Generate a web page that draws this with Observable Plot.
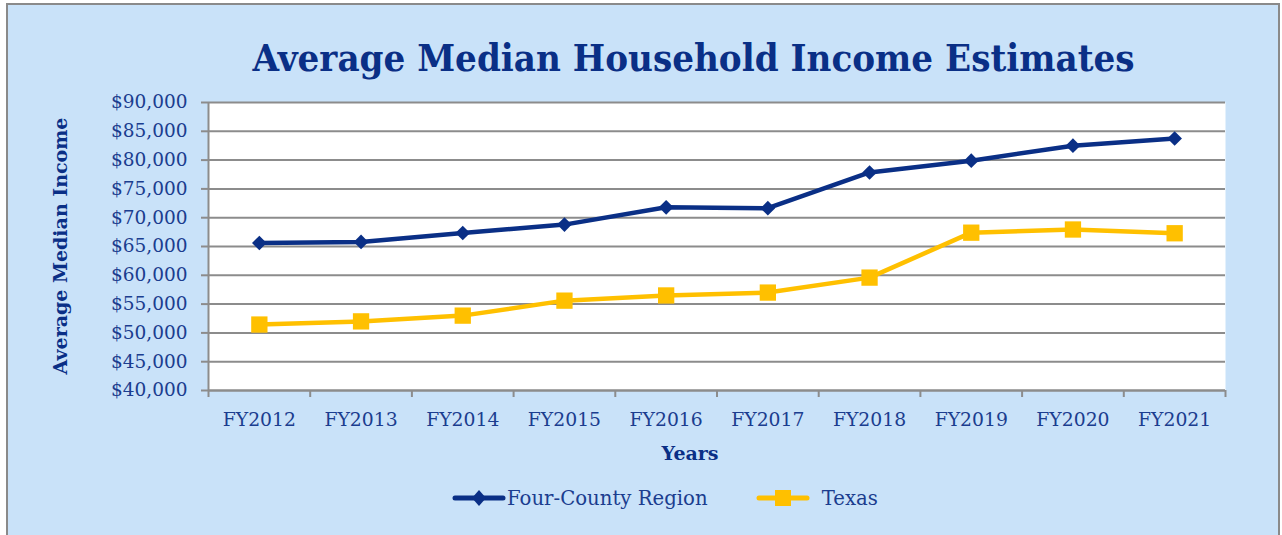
<!DOCTYPE html>
<html>
<head>
<meta charset="utf-8">
<script src="https://cdn.jsdelivr.net/npm/d3@7"></script>
<script src="https://cdn.jsdelivr.net/npm/@observablehq/plot@0.6"></script>
<style>
  html, body { margin: 0; padding: 0; background: #ffffff; }
  #wrap { position: relative; width: 1282px; height: 535px; overflow: hidden; font-family: "DejaVu Serif", serif; }
  #box { position: absolute; left: 6px; top: 3px; width: 1270px; height: 560px; background: #c9e2f9; border: 2px solid #8a8a8a; }
  #chart { position: absolute; left: 0; top: 0; }
  .t { position: absolute; white-space: nowrap; }
  #title { font-weight: bold; font-size: 38px; color: #0a2f86; top: 35px; transform-origin: center center; }
  #ylab { font-weight: bold; font-size: 19px; color: #0a2f86; }
  #xlab { font-weight: bold; font-size: 19px; color: #0a2f86; }
  .leg { font-size: 19.7px; color: #1b3d8f; }
</style>
</head>
<body>
<div id="wrap">
  <div id="box"></div>
  <div id="chart"></div>
  <div class="t" id="title">Average Median Household Income Estimates</div>
  <div class="t" id="ylab">Average Median Income</div>
  <div class="t" id="xlab">Years</div>
  <div class="t" id="legend"></div>
</div>
<script>
const years = ["FY2012","FY2013","FY2014","FY2015","FY2016","FY2017","FY2018","FY2019","FY2020","FY2021"];
const fourCounty = [65600, 65800, 67350, 68800, 71800, 71650, 77850, 79900, 82500, 83750];
const texas = [51450, 52000, 53000, 55600, 56500, 57000, 59600, 67400, 67950, 67300];
const yTicks = [40000,45000,50000,55000,60000,65000,70000,75000,80000,85000,90000];
const seriesNames = ["Four-County Region", "Texas"];
const seriesColors = ["#0a2f86", "#ffc000"];

const rows = years.map((year, i) => ({year, pos: i + 0.5, four: fourCounty[i], texas: texas[i]}));
const boundaries = years.map((d, i) => i).concat([years.length]);
const centers = years.map((d, i) => i + 0.5);

const grid = "#8c8c8c";
const tickText = "#1b3d8f";

const plot = Plot.plot({
  width: 1282,
  height: 535,
  marginLeft: 208,
  marginRight: 57,
  marginTop: 102,
  marginBottom: 145,
  x: {type: "linear", domain: [0, years.length], axis: null},
  y: {domain: [40000, 90000], axis: null},
  style: {background: "transparent", fontFamily: "DejaVu Serif, serif", overflow: "visible"},
  marks: [
    Plot.frame({fill: "white", stroke: null}),
    Plot.gridY(yTicks, {stroke: grid, strokeOpacity: 1, strokeWidth: 2}),
    Plot.axisY(yTicks, {tickFormat: d3.format("$,"), tickSize: 7, tickPadding: 14, stroke: grid, strokeWidth: 2, fill: tickText, fontSize: 18.5, label: null}),
    Plot.axisX(boundaries, {tickFormat: () => "", tickSize: 7, stroke: grid, strokeWidth: 2, label: null}),
    Plot.axisX(centers, {tickFormat: v => years[Math.round(v - 0.5)], tickSize: 0, tickPadding: 22, fill: tickText, fontSize: 18.8, label: null}),
    Plot.ruleX([0], {stroke: grid, strokeWidth: 2}),
    Plot.ruleY([40000], {stroke: grid, strokeWidth: 2}),
    Plot.line(rows, {x: "pos", y: "texas", stroke: seriesColors[1], strokeWidth: 4.5}),
    Plot.dot(rows, {x: "pos", y: "texas", symbol: "square", r: 9.2, fill: seriesColors[1], stroke: null}),
    Plot.line(rows, {x: "pos", y: "four", stroke: seriesColors[0], strokeWidth: 4.5}),
    Plot.dot(rows, {x: "pos", y: "four", symbol: "diamond2", r: 6.6, fill: seriesColors[0], stroke: null})
  ]
});
document.getElementById("chart").appendChild(plot);

// title: centered at x=694, width ~882
const title = document.getElementById("title");
const tw = title.getBoundingClientRect().width;
title.style.left = (694 - tw / 2) + "px";
title.style.transform = `scaleX(${882 / tw})`;

// y label rotated
const ylab = document.getElementById("ylab");
const yw = ylab.getBoundingClientRect().width, yh = ylab.getBoundingClientRect().height;
ylab.style.left = (60 - yw / 2) + "px";
ylab.style.top = (246 - yh / 2) + "px";
ylab.style.transform = "rotate(-90deg)";

const xlab = document.getElementById("xlab");
const xw = xlab.getBoundingClientRect().width;
xlab.style.left = (690 - xw / 2) + "px";
xlab.style.top = "442px";

// legend
const legend = document.getElementById("legend");
legend.style.left = "452px";
legend.style.top = "486px";
legend.innerHTML = `
<span style="display:inline-flex;align-items:center;">
  <svg width="54" height="24"><line x1="3" y1="12" x2="51" y2="12" stroke="${seriesColors[0]}" stroke-width="5" stroke-linecap="round"/><path d="M27,4 L34,12 L27,20 L20,12 Z" fill="${seriesColors[0]}"/></svg>
  <span class="leg" style="margin-left:1px;">${seriesNames[0]}</span>
  <svg width="54" height="24" style="margin-left:48px;"><line x1="3" y1="12" x2="51" y2="12" stroke="${seriesColors[1]}" stroke-width="5" stroke-linecap="round"/><rect x="19" y="4" width="16" height="16" fill="${seriesColors[1]}"/></svg>
  <span class="leg" style="margin-left:12px;">${seriesNames[1]}</span>
</span>`;
</script>
</body>
</html>
